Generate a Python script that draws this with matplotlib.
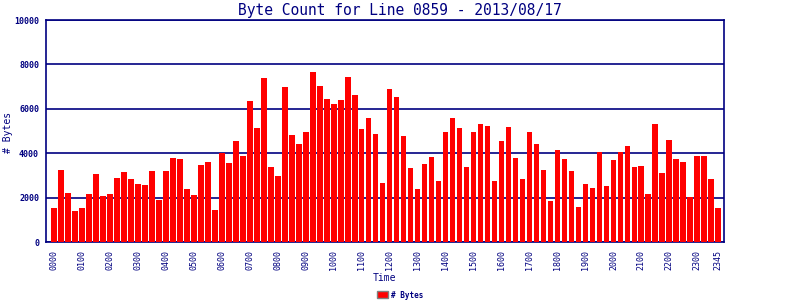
import matplotlib.pyplot as plt
import matplotlib.patches as mpatches

NAVY = '#000080'

# 15-minute intervals, 0000 .. 2345
times = ['%02d%02d' % (h, m) for h in range(24) for m in (0, 15, 30, 45)]
byte_counts = [
    1530, 3240, 2205, 1395, 1530, 2160, 3060, 2070, 2160, 2880, 3150, 2835,
    2610, 2565, 3195, 1890, 3195, 3780, 3735, 2385, 2115, 3465, 3600, 1440,
    4005, 3555, 4545, 3870, 6345, 5130, 7380, 3375, 2970, 6975, 4815, 4410,
    4950, 7650, 7020, 6435, 6210, 6390, 7425, 6615, 5085, 5580, 4860, 2655,
    6885, 6525, 4770, 3330, 2385, 3510, 3825, 2745, 4950, 5580, 5130, 3375,
    4950, 5310, 5220, 2745, 4545, 5175, 3780, 2835, 4950, 4410, 3240, 1845,
    4140, 3735, 3195, 1575, 2610, 2430, 4050, 2520, 3690, 4050, 4320, 3375,
    3420, 2160, 5310, 3105, 4590, 3735, 3600, 2025, 3870, 3870, 2835, 1530,
]
tick_idx = list(range(0, 96, 4)) + [95]
y_ticks = [0, 2000, 4000, 6000, 8000, 10000]

plt.rcParams['font.family'] = 'DejaVu Sans Mono'

fig = plt.figure(figsize=(8, 3), dpi=100)
ax = fig.add_axes([0.0575, 0.1933, 0.8475, 0.74])

x = list(range(len(byte_counts)))
ax.bar(x, byte_counts, width=0.84, color='#ff0000', zorder=3)

ax.set_xlim(-1.1, 95.8)
ax.set_ylim(0, 10000)
ax.set_yticks(y_ticks)
ax.set_yticklabels([str(v) for v in y_ticks], fontsize=6, fontweight='bold', color=NAVY)
ax.set_xticks(tick_idx)
ax.set_xticklabels([times[i] for i in tick_idx], rotation=90, fontsize=6, color=NAVY)
ax.tick_params(axis='y', length=0, pad=5)
ax.tick_params(axis='x', length=0, pad=6)
ax.yaxis.grid(True, color=NAVY, linewidth=1.2, zorder=1)
ax.set_axisbelow(True)
for s in ax.spines.values():
    s.set_color(NAVY)
    s.set_linewidth(1.2)

fig.text(400 / 800, 1 - 10 / 300, 'Byte Count for Line 0859 - 2013/08/17',
         color=NAVY, fontsize=10.5, ha='center', va='center')
fig.text(8 / 800, 1 - 132 / 300, '# Bytes', color=NAVY, fontsize=7,
         rotation=90, ha='center', va='center')
fig.text(384 / 800, 1 - 278 / 300, 'Time', color=NAVY, fontsize=7,
         ha='center', va='center')

handle = mpatches.Patch(facecolor='#ff0000', edgecolor='#808080', label='# Bytes')
fig.legend(handles=[handle], loc='center', bbox_to_anchor=(400 / 800, 1 - 295 / 300),
           frameon=False, fontsize=5.5, handlelength=1.4, handleheight=1.0,
           handletextpad=0.4, labelcolor=NAVY, borderpad=0,
           prop={'weight': 'bold', 'size': 5.5})

fig.savefig('out.png', dpi=100)
